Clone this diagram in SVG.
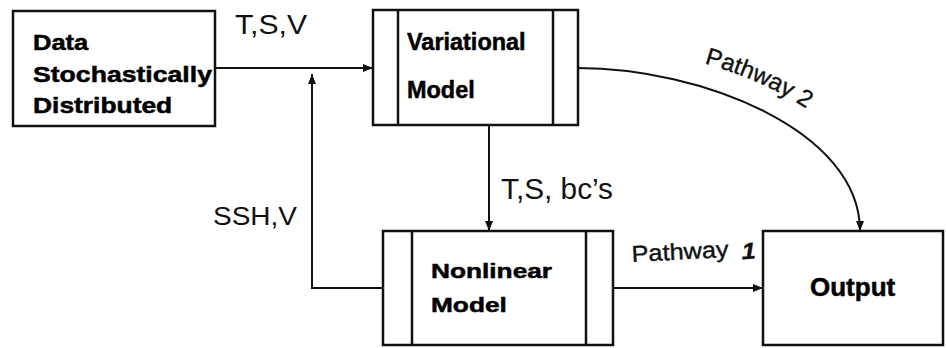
<svg xmlns="http://www.w3.org/2000/svg" xmlns:xlink="http://www.w3.org/1999/xlink" width="946" height="348" viewBox="0 0 946 348">
<style>
.box{fill:#fff;stroke:#111;stroke-width:2.5}
.div{stroke:#111;stroke-width:2.5}
.b{font-family:"Liberation Sans",Arial,sans-serif;font-weight:bold;fill:#000;stroke:#000;stroke-width:0.5}
.r{font-family:"Liberation Sans",Arial,sans-serif;fill:#111}
.p{font-family:"Liberation Sans",Arial,sans-serif;fill:#111;stroke:#111;stroke-width:0.4}
.con{fill:none;stroke:#111;stroke-width:2}
</style>
<defs>
<marker id="ah" markerUnits="userSpaceOnUse" markerWidth="11" markerHeight="9" refX="10" refY="4" orient="auto">
<path d="M0,0 L10,4 L0,8 z" fill="#111"/>
</marker>
<path id="p2" d="M578,45 C710,45 882,112 884,228"/>
</defs>
<rect width="946" height="348" fill="#fff"/>
<g id="data">
<rect class="box" x="13" y="11" width="202" height="115"/>
<text class="b" font-size="22" transform="translate(33 50) scale(1.16 1)">Data</text>
<text class="b" font-size="22" transform="translate(33 82) scale(1.21 1)">Stochastically</text>
<text class="b" font-size="22" transform="translate(33 113) scale(1.2 1)">Distributed</text>
</g>
<g id="variational">
<rect class="box" x="373" y="10" width="205" height="115"/>
<line class="div" x1="398" y1="10" x2="398" y2="125"/>
<line class="div" x1="553" y1="10" x2="553" y2="125"/>
<text class="b" font-size="23" transform="translate(407 50) scale(1.02 1)">Variational</text>
<text class="b" font-size="23" transform="translate(407 98) scale(1.02 1)">Model</text>
</g>
<g id="nonlinear">
<rect class="box" x="383" y="231" width="230" height="114"/>
<line class="div" x1="412" y1="231" x2="412" y2="345"/>
<line class="div" x1="586" y1="231" x2="586" y2="345"/>
<text class="b" font-size="21" transform="translate(431 278) scale(1.25 1)">Nonlinear</text>
<text class="b" font-size="21" transform="translate(431 312) scale(1.25 1)">Model</text>
</g>
<g id="output">
<rect class="box" x="763" y="231" width="180" height="114"/>
<text class="b" font-size="25" transform="translate(810 296) scale(1.04 1)">Output</text>
</g>
<g id="connectors">
<path class="con" d="M215,68 H373" marker-end="url(#ah)"/>
<path class="con" d="M383,288 H312 V74" marker-end="url(#ah)"/>
<path class="con" d="M489,125 V231" marker-end="url(#ah)"/>
<path class="con" d="M613,288 H763" marker-end="url(#ah)"/>
<path class="con" d="M578,68 C700,68 860,130 860,231" marker-end="url(#ah)"/>
<text class="r" font-size="27" x="235" y="34" textLength="72" lengthAdjust="spacingAndGlyphs">T,S,V</text>
<text class="r" font-size="29" x="501" y="199" textLength="112" lengthAdjust="spacingAndGlyphs">T,S, bc’s</text>
<text class="r" font-size="25" x="213" y="225" textLength="84" lengthAdjust="spacingAndGlyphs">SSH,V</text>
<text class="p" font-size="23" transform="rotate(-3 632 262) translate(632 262) scale(1.1 1)"><tspan x="0" y="0">Pathway</tspan><tspan x="100" y="3" font-style="italic" font-weight="bold">1</tspan></text>
<text class="p" font-size="24"><textPath xlink:href="#p2" startOffset="128">Pathway 2</textPath></text>
</g>
</svg>
